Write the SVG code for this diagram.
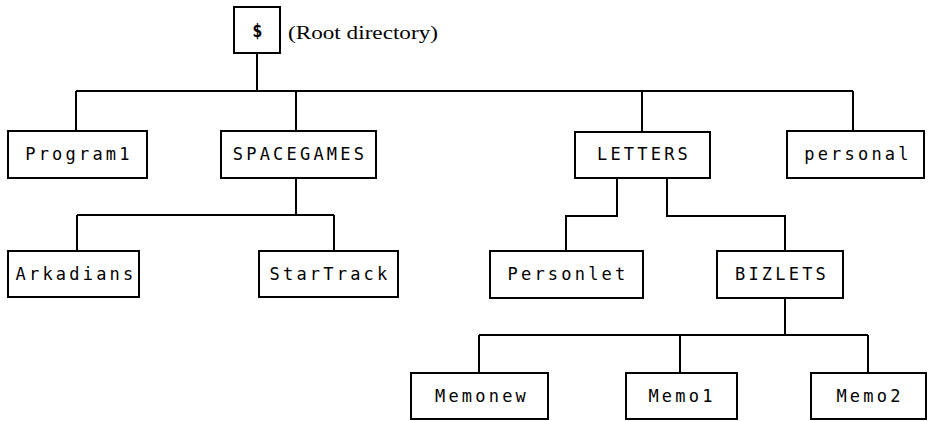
<svg xmlns="http://www.w3.org/2000/svg" width="931" height="421" viewBox="0 0 931 421">
<style>
.box{fill:#fff;stroke:#000;stroke-width:2}
.lbl{font-family:"DejaVu Sans Mono","Liberation Mono",monospace;font-size:17px;letter-spacing:3.2px;text-anchor:middle;fill:#000}
.con{fill:none;stroke:#000;stroke-width:2}
.note{font-family:"Liberation Serif",serif;font-size:18px;fill:#000}
</style>
<rect width="931" height="421" fill="#fff"/>
<g id="connectors" class="con">
<path d="M257 53V91M76 91H853M76 91V131M296 91V131M642 91V132M853 91V131"/>
<path d="M296 178V215M77 215H334M77 215V251M334 215V251"/>
<path d="M617 178V216H566V251M667 178V216H785V251"/>
<path d="M785 298V335M479 335H868M479 335V373M680 335V373M868 335V373"/>
</g>
<g id="root"><rect class="box" x="234" y="7" width="46" height="46"/><text class="lbl" x="259" y="37" style="font-weight:bold">$</text></g>
<text class="note" x="288" y="39" textLength="150" lengthAdjust="spacingAndGlyphs">(Root directory)</text>
<g id="program1"><rect class="box" x="8" y="131" width="139" height="47"/><text class="lbl" x="79" y="160">Program1</text></g>
<g id="spacegames"><rect class="box" x="221" y="131" width="155" height="47"/><text class="lbl" x="300" y="160">SPACEGAMES</text></g>
<g id="letters"><rect class="box" x="575" y="132" width="135" height="46"/><text class="lbl" x="644" y="160">LETTERS</text></g>
<g id="personal"><rect class="box" x="787" y="131" width="137" height="47"/><text class="lbl" x="858" y="160">personal</text></g>
<g id="arkadians"><rect class="box" x="8" y="251" width="131" height="46"/><text class="lbl" x="76" y="280">Arkadians</text></g>
<g id="startrack"><rect class="box" x="259" y="251" width="139" height="46"/><text class="lbl" x="330" y="280">StarTrack</text></g>
<g id="personlet"><rect class="box" x="490" y="251" width="153" height="47"/><text class="lbl" x="568" y="280">Personlet</text></g>
<g id="bizlets"><rect class="box" x="717" y="251" width="126" height="47"/><text class="lbl" x="782" y="280">BIZLETS</text></g>
<g id="memonew"><rect class="box" x="411" y="373" width="137" height="46"/><text class="lbl" x="482" y="402">Memonew</text></g>
<g id="memo1"><rect class="box" x="626" y="373" width="111" height="46"/><text class="lbl" x="682" y="402">Memo1</text></g>
<g id="memo2"><rect class="box" x="811" y="373" width="115" height="46"/><text class="lbl" x="870" y="402">Memo2</text></g>
</svg>
